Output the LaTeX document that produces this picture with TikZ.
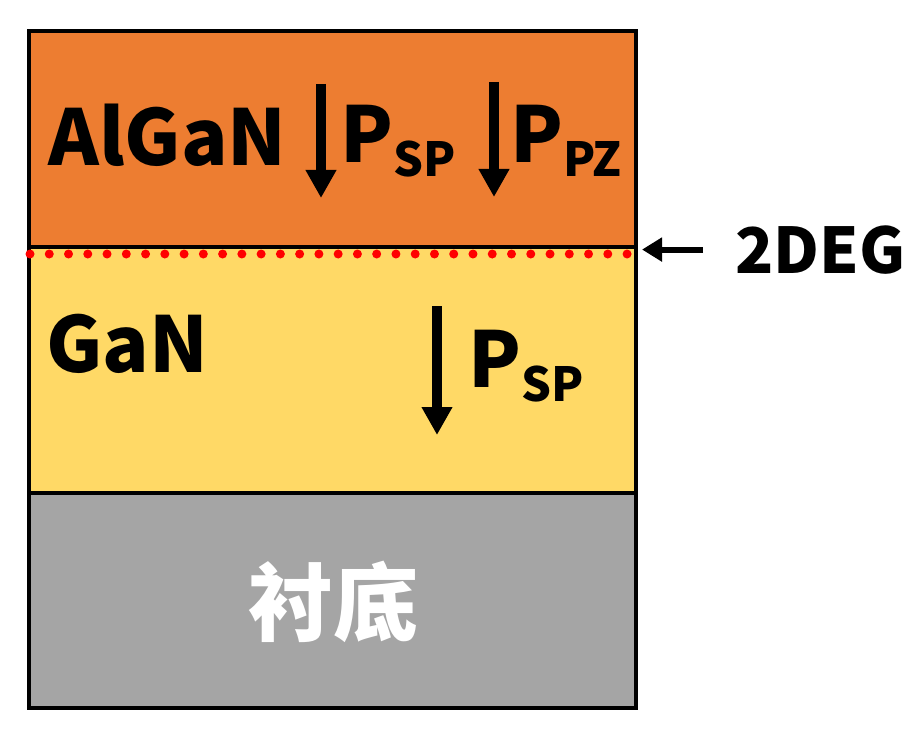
\documentclass[tikz,border=0pt]{standalone}
\usepackage{fontspec}
\setmainfont{Noto Sans CJK SC}
\usetikzlibrary{arrows.meta}
\definecolor{alganfill}{HTML}{ED7D31}
\definecolor{ganfill}{HTML}{FFD966}
\definecolor{subfill}{HTML}{A5A5A5}
\newcommand\psub[1]{\raisebox{-14pt}{\fontsize{47}{47}\selectfont #1}}

\begin{document}
\begin{tikzpicture}[x=1pt,y=-1pt,
  lbl/.style={font=\fontsize{77}{77}\selectfont\bfseries,inner sep=0pt,anchor=base west},
  parrow/.style={line width=10pt,-{Triangle[width=29pt 0,length=28pt 0]}},
  layerline/.style={line width=4pt}]
\useasboundingbox (0,0) rectangle (912,754);
% layer stack: AlGaN / GaN / substrate
\fill[alganfill] (29,31) rectangle (636,247);
\fill[ganfill] (29,247) rectangle (636,493);
\fill[subfill] (29,493) rectangle (636,708);
\draw[layerline] (29,247) -- (636,247);
\draw[layerline] (29,493) -- (636,493);
\draw[layerline] (29,31) rectangle (636,708);
% 2DEG sheet just below the interface
\foreach \i in {0,...,31} {\fill[red] (30+\i*19.26,254) circle (4.5);}
% labels
\node[lbl] (algan) at (48,166) {AlGaN};
\node[lbl] (pspa) at (340,163) {P\psub{SP}};
\node[lbl] (ppz) at (510,163) {P\psub{PZ}};
\node[lbl] (gan) at (46,372) {GaN};
\node[lbl] (pspb) at (468,387) {P\psub{SP}};
\node[font=\fontsize{85}{85}\selectfont\bfseries,text=white,inner sep=0pt] (subst) at (333,602) {衬底};
\node[font=\fontsize{63}{63}\selectfont\bfseries,inner sep=0pt,anchor=base west] (deg) at (735,273) {2DEG};
% polarisation arrows
\coordinate (spatop) at (321,84);
\coordinate (spabot) at (321,198);
\coordinate (pztop) at (494,82);
\coordinate (pzbot) at (494,197);
\coordinate (spbtop) at (437,306);
\coordinate (spbbot) at (437,435);
\draw[parrow] (spatop) -- (spabot);
\draw[parrow] (pztop) -- (pzbot);
\draw[parrow] (spbtop) -- (spbbot);
\draw[line width=6pt,-{Triangle[width=23pt 0,length=20pt 0]}] ([xshift=-32pt]deg.west) -- ++(-61,0);
\end{tikzpicture}
\end{document}
